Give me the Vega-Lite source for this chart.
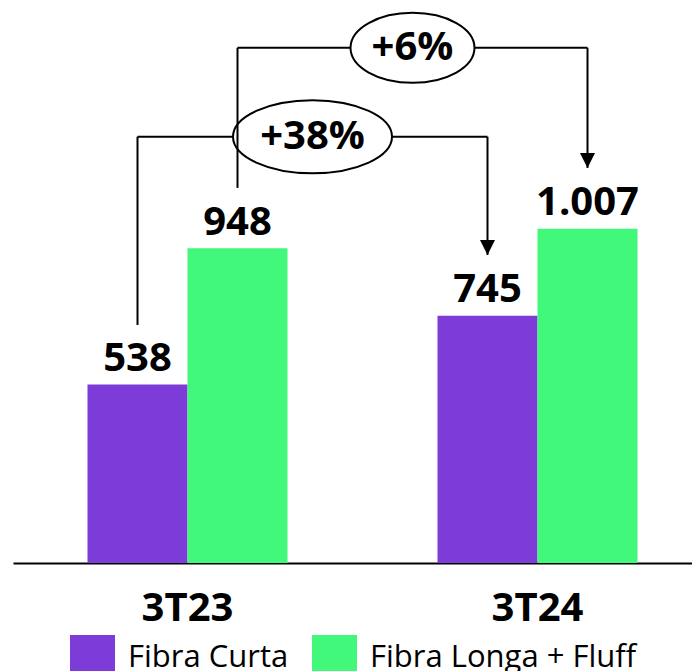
{
  "$schema": "https://vega.github.io/schema/vega-lite/v6.json",
  "autosize": {"type": "none"},
  "padding": {"left": 13, "top": 0, "right": 0, "bottom": 108},
  "width": 699,
  "height": 563,
  "background": "white",
  "config": {
    "view": {"stroke": null},
    "font": "Open Sans",
    "locale": {"number": {"decimal": ",", "thousands": ".", "grouping": [3], "currency": ["R$", ""]}}
  },
  "datasets": {
    "bars": [
      {"period": "3T23", "series": "Fibra Curta", "value": 538},
      {"period": "3T23", "series": "Fibra Longa + Fluff", "value": 948},
      {"period": "3T24", "series": "Fibra Curta", "value": 745},
      {"period": "3T24", "series": "Fibra Longa + Fluff", "value": 1007}
    ],
    "verticals": [
      {"period": "3T23", "series": "Fibra Curta", "y": 717, "y2": 1284},
      {"period": "3T24", "series": "Fibra Curta", "y": 1284, "y2": 928},
      {"period": "3T23", "series": "Fibra Longa + Fluff", "y": 1130, "y2": 1552},
      {"period": "3T24", "series": "Fibra Longa + Fluff", "y": 1552, "y2": 1190}
    ],
    "horizontals": [
      {"bracket": "a", "period": "3T23", "series": "Fibra Curta", "y": 1284},
      {"bracket": "a", "period": "3T24", "series": "Fibra Curta", "y": 1284},
      {"bracket": "b", "period": "3T23", "series": "Fibra Longa + Fluff", "y": 1552},
      {"bracket": "b", "period": "3T24", "series": "Fibra Longa + Fluff", "y": 1552}
    ],
    "arrows": [
      {"period": "3T24", "series": "Fibra Curta", "y": 928},
      {"period": "3T24", "series": "Fibra Longa + Fluff", "y": 1190}
    ],
    "badges": [
      {"period": "3T23", "label": "+38%", "y": 1284},
      {"period": "3T23", "label": "+6%", "y": 1552}
    ]
  },
  "layer": [
    {
      "data": {"name": "bars"},
      "mark": {"type": "bar"},
      "encoding": {
        "x": {"field": "period", "type": "nominal",
          "scale": {"paddingInner": 0.428571, "paddingOuter": 0.212857},
          "axis": {"title": null, "labelAngle": 0, "labelFontSize": 40, "labelFontWeight": "bold", "labelColor": "#000", "labelPadding": 25, "ticks": false, "domainColor": "#000", "domainWidth": 2, "labelFont": "Open Sans"}},
        "xOffset": {"field": "series", "type": "nominal", "scale": {"paddingInner": 0, "paddingOuter": 0}},
        "y": {"field": "value", "type": "quantitative", "scale": {"domain": [0, 1696], "nice": false, "zero": true}, "axis": null},
        "color": {"field": "series", "type": "nominal",
          "scale": {"domain": ["Fibra Curta", "Fibra Longa + Fluff"], "range": ["#7D3CD8", "#42F87A"]},
          "legend": {"title": null, "orient": "none", "direction": "horizontal", "legendX": 57, "legendY": 635, "padding": 0,
            "symbolType": "square", "symbolSize": 2025, "symbolStrokeWidth": 0, "symbolOpacity": 1,
            "labelFontSize": 31, "labelFont": "Open Sans", "labelColor": "#000", "labelOffset": 13, "columnPadding": 23, "labelLimit": 400}}
      }
    },
    {
      "data": {"name": "bars"},
      "mark": {"type": "text", "fontSize": 40, "fontWeight": "bold", "font": "Open Sans", "baseline": "alphabetic", "dy": -13.5, "color": "#000"},
      "encoding": {
        "x": {"field": "period", "type": "nominal"},
        "xOffset": {"field": "series", "type": "nominal"},
        "y": {"field": "value", "type": "quantitative"},
        "text": {"field": "value", "type": "quantitative", "format": ",d"}
      }
    },
    {
      "data": {"name": "horizontals"},
      "mark": {"type": "line", "color": "#000", "strokeWidth": 2},
      "encoding": {
        "x": {"field": "period", "type": "nominal"},
        "xOffset": {"field": "series", "type": "nominal"},
        "y": {"field": "y", "type": "quantitative"},
        "detail": {"field": "bracket", "type": "nominal"}
      }
    },
    {
      "data": {"name": "badges"},
      "transform": [{"filter": "datum.label == '+38%'"}],
      "mark": {"type": "point", "filled": true, "fill": "white", "stroke": "#000", "strokeWidth": 2, "opacity": 1, "size": 25281,
        "shape": "M-1,0 A1,0.459 0 1,1 1,0 A1,0.459 0 1,1 -1,0 Z"},
      "encoding": {
        "x": {"field": "period", "type": "nominal", "bandPosition": 1.125},
        "y": {"field": "y", "type": "quantitative"}
      }
    },
    {
      "data": {"name": "verticals"},
      "mark": {"type": "rule", "color": "#000", "strokeWidth": 2},
      "encoding": {
        "x": {"field": "period", "type": "nominal"},
        "xOffset": {"field": "series", "type": "nominal"},
        "y": {"field": "y", "type": "quantitative"},
        "y2": {"field": "y2"}
      }
    },
    {
      "data": {"name": "badges"},
      "transform": [{"filter": "datum.label == '+6%'"}],
      "mark": {"type": "point", "filled": true, "fill": "white", "stroke": "#000", "strokeWidth": 2, "opacity": 1, "size": 15376,
        "shape": "M-1,0 A1,0.565 0 1,1 1,0 A1,0.565 0 1,1 -1,0 Z"},
      "encoding": {
        "x": {"field": "period", "type": "nominal", "bandPosition": 1.625},
        "y": {"field": "y", "type": "quantitative"}
      }
    },
    {
      "data": {"name": "arrows"},
      "mark": {"type": "point", "filled": true, "fill": "#000", "strokeWidth": 0, "opacity": 1, "size": 225,
        "shape": "M-1,-2 L1,-2 L0,0 Z"},
      "encoding": {
        "x": {"field": "period", "type": "nominal"},
        "xOffset": {"field": "series", "type": "nominal"},
        "y": {"field": "y", "type": "quantitative"}
      }
    },
    {
      "data": {"name": "badges"},
      "transform": [{"filter": "datum.label == '+38%'"}],
      "mark": {"type": "text", "fontSize": 40, "fontWeight": "bold", "font": "Open Sans", "baseline": "middle", "align": "center", "color": "#000"},
      "encoding": {
        "x": {"field": "period", "type": "nominal", "bandPosition": 1.125},
        "y": {"field": "y", "type": "quantitative"},
        "text": {"field": "label"}
      }
    },
    {
      "data": {"name": "badges"},
      "transform": [{"filter": "datum.label == '+6%'"}],
      "mark": {"type": "text", "fontSize": 40, "fontWeight": "bold", "font": "Open Sans", "baseline": "middle", "align": "center", "color": "#000"},
      "encoding": {
        "x": {"field": "period", "type": "nominal", "bandPosition": 1.625},
        "y": {"field": "y", "type": "quantitative"},
        "text": {"field": "label"}
      }
    }
  ]
}
